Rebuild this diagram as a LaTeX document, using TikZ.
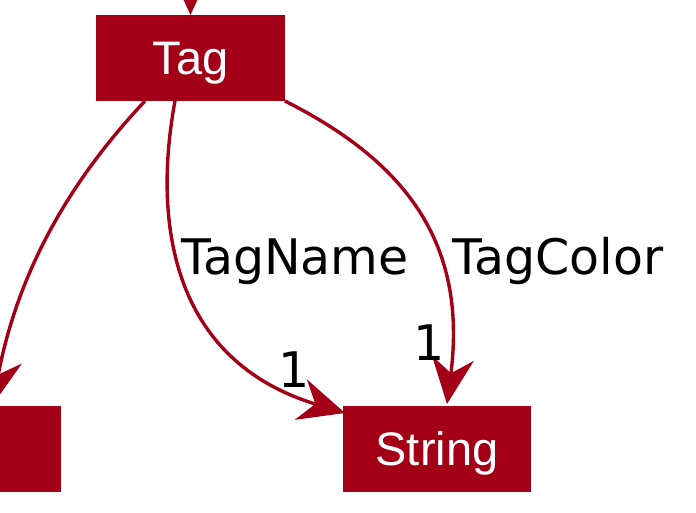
\documentclass[tikz,border=0pt]{standalone}
\usepackage{fontspec}
\setmainfont{Liberation Sans}
\newfontfamily\labfont{DejaVu Sans}
\usetikzlibrary{arrows.meta,calc}
\definecolor{umlred}{RGB}{163,0,24}
\tikzset{
  classbox/.style={fill=umlred, draw=none, inner sep=0pt, outer sep=0pt,
    text=white, font=\fontsize{47}{52}\selectfont, text height=33.6pt, text depth=0pt},
  conn/.style={draw=umlred, line width=3.4pt,
    -{Stealth[length=46pt,width=42pt,inset=15pt]}},
  lab/.style={inner sep=0pt, anchor=base west, text=black,
    font=\labfont\fontsize{49}{54}\selectfont}
}
\begin{document}
\begin{tikzpicture}[x=1pt,y=-1pt]
\useasboundingbox (0,0) rectangle (696,512);
\clip (0,0) rectangle (696,512);
\fill[white] (0,0) rectangle (696,512);
% nodes
\node[classbox, minimum width=189pt, minimum height=86pt] (Tag) at (190.5,58) {Tag};
\node[classbox, minimum width=188pt, minimum height=86pt] (String) at (437,449) {String};
\node[classbox, minimum width=121pt, minimum height=86pt] (Left) at (0.5,449) {};
\coordinate (top) at (190.5,-40);
% connectors
\draw[conn] (top) -- (Tag.north);
\draw[conn] ($(Tag.south west)+(49,0)$) .. controls (80,170) and (20,260) .. ($(Left.north)+(-8,-1)$);
\draw[conn] ($(Tag.south west)+(79,0)$) .. controls (153,220) and (170,360) .. ($(String.north west)+(2,7)$);
\draw[conn] (Tag.south east) .. controls (402,160) and (468,240) .. ($(String.north west)+(104,-2)$);
% labels
\node[lab] (lTagName) at (181,274) {TagName};
\node[lab] (lTagColor) at (452,274) {TagColor};
\node[lab] (m1) at (278,387) {1};
\node[lab] (m2) at (413,360) {1};
\end{tikzpicture}
\end{document}
